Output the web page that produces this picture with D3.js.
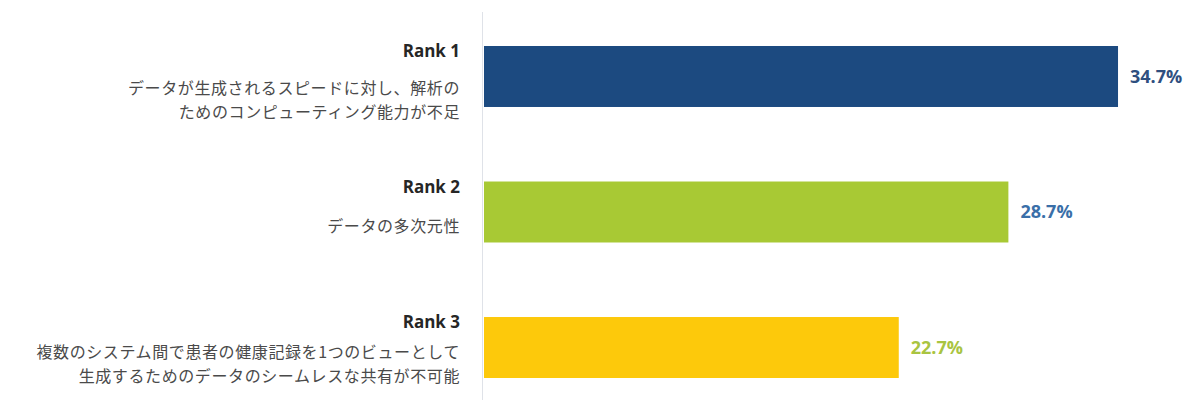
<!DOCTYPE html>
<html>
<head>
<meta charset="utf-8">
<script src="https://cdn.jsdelivr.net/npm/d3@7"></script>
<style>
  body { margin: 0; background: #fff; }
</style>
</head>
<body>
<div id="chart"></div>
<script>
const ranks = ["Rank 1", "Rank 2", "Rank 3"];
const descriptions = [
  ["データが生成されるスピードに対し、解析の", "ためのコンピューティング能力が不足"],
  ["データの多次元性"],
  ["複数のシステム間で患者の健康記録を1つのビューとして", "生成するためのデータのシームレスな共有が不可能"],
];
const values = [34.7, 28.7, 22.7];
const valueLabels = ["34.7%", "28.7%", "22.7%"];

const barColors = ["#1c4a80", "#a8c934", "#fdc90b"];
const labelColors = ["#2f4f7f", "#3a6fa8", "#a9c441"];

const width = 1196, height = 407;

const svg = d3.select("#chart").append("svg")
  .attr("width", width)
  .attr("height", height);

const x = d3.scaleLinear().domain([0, 35]).range([484, 1123.5]);
const y = d3.scaleBand().domain(ranks).range([46, 378]).paddingInner(0.55).paddingOuter(0);

// vertical axis line
svg.append("line")
  .attr("x1", 482.5).attr("x2", 482.5)
  .attr("y1", 12).attr("y2", 400)
  .attr("stroke", "#dfe2e8")
  .attr("stroke-width", 1);

svg.selectAll("rect.bar")
  .data(values)
  .enter()
  .append("rect")
  .attr("class", "bar")
  .attr("x", x(0))
  .attr("y", (d, i) => y(ranks[i]))
  .attr("width", (d) => x(d) - x(0))
  .attr("height", y.bandwidth())
  .attr("fill", (d, i) => barColors[i]);

// value labels
svg.selectAll("text.val")
  .data(values)
  .enter()
  .append("text")
  .attr("class", "val")
  .attr("x", (d) => x(d) + 12)
  .attr("y", (d, i) => y(ranks[i]) + y.bandwidth() / 2)
  .attr("dy", "0.35em")
  .attr("font-family", "'Open Sans', sans-serif")
  .attr("font-weight", "bold")
  .attr("font-size", 18)
  .attr("fill", (d, i) => labelColors[i])
  .text((d, i) => valueLabels[i]);

// category labels (offsets measured from the top of each bar)
const labelX = 460;
const lineH = 23.5;
const descTop = [42, 44, 35];
ranks.forEach((r, i) => {
  const top = y(r);
  const g = svg.append("g");
  g.append("text")
    .attr("x", labelX)
    .attr("y", top + 5)
    .attr("dy", "0.36em")
    .attr("text-anchor", "end")
    .attr("font-family", "'Open Sans', sans-serif")
    .attr("font-weight", "bold")
    .attr("font-size", 17)
    .attr("fill", "#262626")
    .text(r);
  descriptions[i].forEach((t, j) => {
    g.append("text")
      .attr("x", labelX)
      .attr("y", top + descTop[i] + j * lineH)
      .attr("dy", "0.38em")
      .attr("text-anchor", "end")
      .attr("font-family", "'Noto Sans CJK JP', sans-serif")
      .attr("font-size", 16)
      .attr("letter-spacing", 0.6)
      .attr("fill", "#4a4a4a")
      .text(t);
  });
});
</script>
</body>
</html>
